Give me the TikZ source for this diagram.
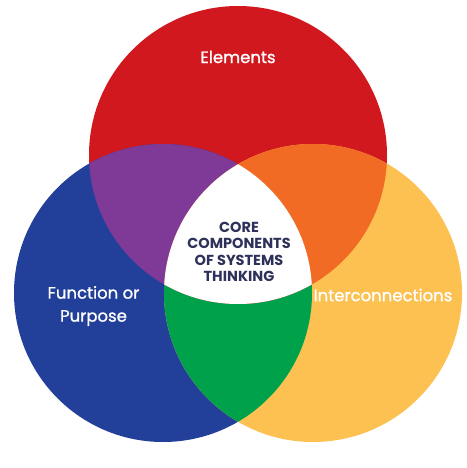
\documentclass[tikz,border=0pt]{standalone}
\usepackage{fontspec}
\setmainfont{Poppins}
\newfontfamily\popmed[FakeBold=1.2]{Poppins}
\definecolor{redc}{HTML}{D2181F}
\definecolor{bluec}{HTML}{22409A}
\definecolor{yellowc}{HTML}{FDC152}
\definecolor{purplec}{HTML}{7E3A96}
\definecolor{orangec}{HTML}{F26B25}
\definecolor{greenc}{HTML}{00A14B}
\definecolor{navyc}{HTML}{2E3159}
\begin{document}
\begin{tikzpicture}[x=1pt,y=-1pt,
  lbl/.style={text=white,font=\popmed\fontsize{16.5}{23}\selectfont,align=center,inner sep=0pt},
  core/.style={text=navyc,font=\bfseries\fontsize{14.5}{16.4}\selectfont,align=center,inner sep=0pt}]
\useasboundingbox (0,0) rectangle (466,468);
\fill[white] (0,0) rectangle (466,468);
\coordinate (cr) at (238,155);
\coordinate (cb) at (163,293);
\coordinate (cy) at (313,293);
\def\rad{149pt}
\fill[redc] (cr) circle (\rad);
\fill[bluec] (cb) circle (\rad);
\fill[yellowc] (cy) circle (\rad);
\begin{scope}
  \clip (cb) circle (\rad);
  \fill[greenc] (cy) circle (\rad);
\end{scope}
\begin{scope}
  \clip (cr) circle (\rad);
  \fill[purplec] (cb) circle (\rad);
  \fill[orangec] (cy) circle (\rad);
  \clip (cb) circle (\rad);
  \fill[white] (cy) circle (\rad);
\end{scope}
\node[lbl] (elements) at (238,57) {Elements};
\node[lbl] (function) at (93.5,306) {Function or\\Purpose};
\node[lbl] (inter) at (383,295) {Interconnections};
\node[core] (core) at (239,252) {CORE\\COMPONENTS\\OF SYSTEMS\\THINKING};
\end{tikzpicture}
\end{document}
